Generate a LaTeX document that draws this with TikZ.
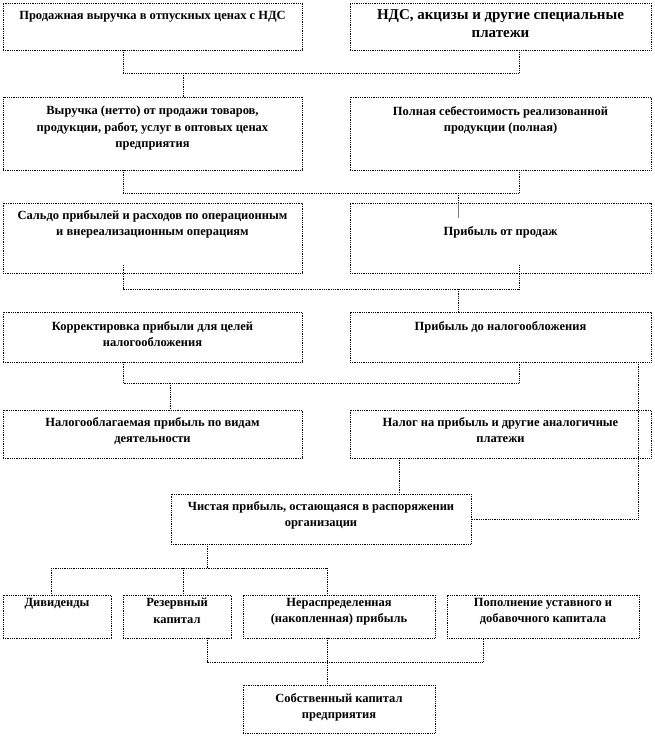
\documentclass[tikz,border=0pt]{standalone}
\usepackage{fontspec}
\setmainfont{Liberation Serif}
\begin{document}
\begin{tikzpicture}[x=1pt,y=-1pt,
  box/.style={draw, densely dotted, line width=0.8pt, rectangle, inner sep=0pt, outer sep=0pt, anchor=north west},
  conn/.style={densely dotted, line width=0.8pt},
  txt/.style={font=\bfseries\fontsize{12.5}{16.5}\selectfont, align=center, inner sep=0pt, anchor=north},
  bigtxt/.style={font=\bfseries\fontsize{15}{18.5}\selectfont, align=center, inner sep=0pt, anchor=north}]
\useasboundingbox[fill=white] (0,0) rectangle (654,737);
% boxes
\node[box, minimum width=299pt, minimum height=47pt] (b1) at (3,3) {};
\node[box, minimum width=301pt, minimum height=47pt] (b2) at (350,3) {};
\node[box, minimum width=299pt, minimum height=73pt] (b3) at (3,97) {};
\node[box, minimum width=301pt, minimum height=73pt] (b4) at (350,97) {};
\node[box, minimum width=299pt, minimum height=70pt] (b5) at (3,203) {};
\node[box, minimum width=301pt, minimum height=70pt] (b6) at (350,203) {};
\node[box, minimum width=299pt, minimum height=50pt] (b7) at (3,312) {};
\node[box, minimum width=301pt, minimum height=50pt] (b8) at (350,312) {};
\node[box, minimum width=299pt, minimum height=48pt] (b9) at (3,410) {};
\node[box, minimum width=301pt, minimum height=48pt] (b10) at (350,410) {};
\node[box, minimum width=300pt, minimum height=50pt] (b11) at (171,494) {};
\node[box, minimum width=108pt, minimum height=43pt] (b12) at (3,595) {};
\node[box, minimum width=108pt, minimum height=43pt] (b13) at (123,595) {};
\node[box, minimum width=192pt, minimum height=43pt] (b14) at (243,595) {};
\node[box, minimum width=192pt, minimum height=43pt] (b15) at (447,595) {};
\node[box, minimum width=192pt, minimum height=48pt] (b16) at (243,685) {};
% texts
\node[txt] (t1) at (152.5,11) {Продажная выручка в отпускных ценах с НДС};
\node[bigtxt] (t2) at (500.5,9) {НДС, акцизы и другие специальные\\платежи};
\node[txt] (t3) at (152.5,106) {Выручка (нетто) от продажи товаров,\\продукции, работ, услуг в оптовых ценах\\предприятия};
\node[txt] (t4) at (500.5,106) {Полная себестоимость реализованной\\продукции (полная)};
\node[txt] (t5) at (152.5,210) {Сальдо прибылей и расходов по операционным\\и внереализационным операциям};
\node[txt] (t6) at (500.5,226) {Прибыль от продаж};
\node[txt] (t7) at (152.5,321) {Корректировка прибыли для целей\\налогообложения};
\node[txt] (t8) at (500.5,321) {Прибыль до налогообложения};
\node[txt] (t9) at (152.5,417) {Налогооблагаемая прибыль по видам\\деятельности};
\node[txt] (t10) at (500.5,417) {Налог на прибыль и другие аналогичные\\платежи};
\node[txt] (t11) at (321,501) {Чистая прибыль, остающаяся в распоряжении\\организации};
\node[txt] (t12) at (57,598) {Дивиденды};
\node[txt] (t13) at (177,598) {Резервный\\капитал};
\node[txt] (t14) at (339,598) {Нераспределенная\\(накопленная) прибыль};
\node[txt] (t15) at (543,598) {Пополнение уставного и\\добавочного капитала};
\node[txt] (t16) at (339,693) {Собственный капитал\\предприятия};
% helper coordinates
\coordinate (x51) at (51,0);
\coordinate (x123) at (123,0);
\coordinate (x170) at (170,0);
\coordinate (x183) at (183,0);
\coordinate (x207) at (207,0);
\coordinate (x327) at (327,0);
\coordinate (x399) at (399,0);
\coordinate (x458) at (458,0);
\coordinate (x483) at (483,0);
\coordinate (x519) at (519,0);
\coordinate (x638) at (638,0);
\coordinate (h1) at (0,73);
\coordinate (h2) at (0,193);
\coordinate (h3) at (0,289);
\coordinate (h4) at (0,383);
\coordinate (h6) at (0,568);
\coordinate (h7) at (0,662);
% row 1
\draw[conn] (b1.south -| x123) -- (x123 |- h1) -- (x519 |- h1) -- (b2.south -| x519);
\draw[conn] (x183 |- h1) -- (b3.north -| x183);
% row 2
\draw[conn] (b3.south -| x123) -- (x123 |- h2) -- (x519 |- h2) -- (b4.south -| x519);
\draw[conn] (x458 |- h2) -- (b6.north -| x458);
\draw[gray, line width=0.6pt] (b6.north -| x458) -- ++(0,15);
% row 3
\draw[conn] ([yshift=8pt]b5.south -| x123) -- (x123 |- h3) -- (x519 |- h3) -- ([yshift=8pt]b6.south -| x519);
\draw[conn] (x458 |- h3) -- (b8.north -| x458);
% row 4
\draw[conn] (b7.south -| x123) -- (x123 |- h4) -- (x519 |- h4) -- (b8.south -| x519);
\draw[conn] (x170 |- h4) -- (b9.north -| x170);
\draw[conn] (b8.south -| x638) |- (b11.east);
% row 5
\draw[conn] (b10.south -| x399) -- (b11.north -| x399);
% row 6
\draw[conn] (b11.south -| x207) -- (x207 |- h6);
\draw[conn] (x51 |- h6) -- (x327 |- h6);
\draw[conn] (x51 |- h6) -- (b12.north -| x51);
\draw[conn] (x183 |- h6) -- (b13.north -| x183);
\draw[conn] (x327 |- h6) -- (b14.north -| x327);
% row 7
\draw[conn] (b13.south -| x207) -- (x207 |- h7) -- (x483 |- h7) -- (b15.south -| x483);
\draw[conn] (b14.south -| x327) -- (b16.north -| x327);
\end{tikzpicture}
\end{document}
